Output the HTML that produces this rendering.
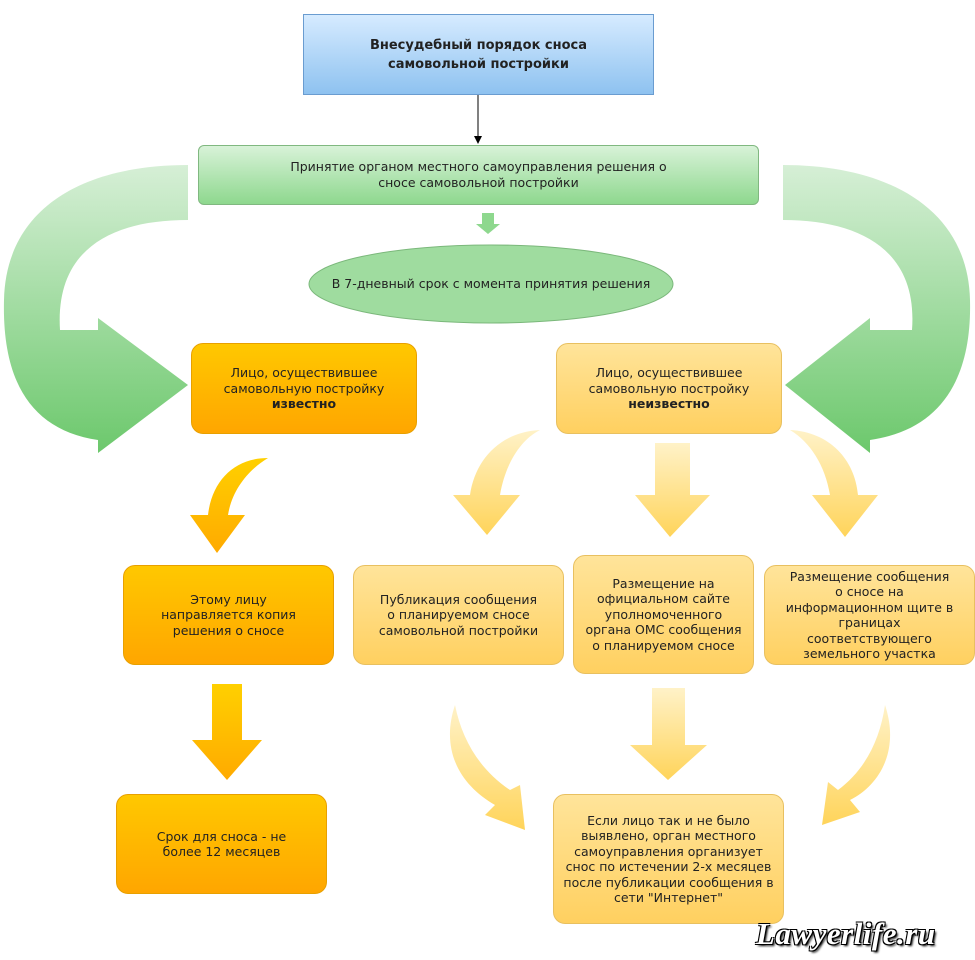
<!DOCTYPE html>
<html><head><meta charset="utf-8"><style>
body{margin:0;width:975px;height:960px;background:#fff;position:relative;overflow:hidden;font-family:"DejaVu Sans","Liberation Sans",sans-serif;font-size:12.5px;color:#222}
.b{position:absolute;display:flex;align-items:center;justify-content:center;text-align:center;box-sizing:border-box;line-height:15.5px}
.b>span{display:block}
.o{background:linear-gradient(#ffc800,#ffa600);border:1px solid #e8a000;border-radius:12px}
.y{background:linear-gradient(#ffe49a,#ffd060);border:1px solid #e8c060;border-radius:12px}
svg{position:absolute;left:0;top:0}
</style></head><body>
<svg width="975" height="960">
<defs>
<linearGradient id="gl" x1="0" y1="0" x2="0" y2="1"><stop offset="0" stop-color="#d6efd6"/><stop offset="1" stop-color="#6cc86c"/></linearGradient>
<linearGradient id="yl" x1="0" y1="0" x2="0" y2="1"><stop offset="0" stop-color="#fff2c8"/><stop offset="1" stop-color="#ffd45a"/></linearGradient>
<linearGradient id="ol" x1="0" y1="0" x2="0" y2="1"><stop offset="0" stop-color="#ffd000"/><stop offset="1" stop-color="#ffaa00"/></linearGradient>
</defs>
<line x1="478" y1="94" x2="478" y2="138" stroke="#000" stroke-width="1"/>
<polygon points="474,136 482,136 478,144" fill="#000"/>
<path d="M188,165 L188,220 C110,220 55,250 60,330 L98,330 L98,318 L188,385 L98,453 L98,440 C30,430 2,380 4,300 C6,210 80,165 188,165 Z" fill="url(#gl)"/>
<path d="M783,165 L783,220 C860,220 918,250 912,330 L870,330 L870,318 L785,385 L870,453 L870,440 C940,430 972,380 970,300 C968,210 890,165 783,165 Z" fill="url(#gl)"/>
<polygon points="482,213 494,213 494,224 500,224 488,234 476,224 482,224" fill="#8ed88e"/>
<ellipse cx="491" cy="284" rx="182" ry="39" fill="#9fdc9f" stroke="#7bb87b"/>
<path d="M268,458 C235,458 212,480 208,515 L190,515 L217,553 L245,515 L228,515 C232,490 248,470 268,458 Z" fill="url(#ol)"/>
<polygon points="212,684 242,684 242,740 262,740 227,780 192,740 212,740" fill="url(#ol)"/>
<path d="M540,430 C500,432 475,460 470,495 L453,495 L487,535 L520,495 L500,495 C505,465 520,440 540,430 Z" fill="url(#yl)"/>
<polygon points="655,443 690,443 690,495 710,495 670,537 635,495 655,495" fill="url(#yl)"/>
<path d="M790,430 C830,432 855,460 858,495 L878,495 L845,537 L812,495 L830,495 C825,465 810,442 790,430 Z" fill="url(#yl)"/>
<path d="M455,705 C440,750 460,785 495,805 L485,815 L525,830 L520,785 L510,790 C480,770 462,740 455,705 Z" fill="url(#yl)"/>
<polygon points="652,688 685,688 685,745 707,745 668,780 630,745 652,745" fill="url(#yl)"/>
<path d="M885,705 C900,750 880,785 850,800 L860,812 L822,825 L828,782 L838,790 C865,770 880,740 885,705 Z" fill="url(#yl)"/>
</svg>
<div class="b" style="left:303px;top:14px;width:351px;height:81px;background:linear-gradient(#d6ebff,#8ec2f0);border:1px solid #6a9cd0;font-weight:bold;font-size:13px;line-height:19px"><span>Внесудебный порядок сноса<br>самовольной постройки</span></div>
<div class="b" style="left:198px;top:145px;width:561px;height:60px;background:linear-gradient(#d8f2d8,#8ed88e);border:1px solid #80b880;border-radius:6px;line-height:16px"><span>Принятие органом местного самоуправления решения о<br>сносе самовольной постройки</span></div>
<div class="b" style="left:309px;top:270px;width:364px;height:28px"><span>В 7-дневный срок с момента принятия решения</span></div>
<div class="b o" style="left:191px;top:343px;width:226px;height:91px"><span>Лицо, осуществившее<br>самовольную постройку<br><b>известно</b></span></div>
<div class="b y" style="left:556px;top:343px;width:226px;height:91px"><span>Лицо, осуществившее<br>самовольную постройку<br><b>неизвестно</b></span></div>
<div class="b o" style="left:123px;top:565px;width:211px;height:100px"><span>Этому лицу<br>направляется копия<br>решения о сносе</span></div>
<div class="b o" style="left:116px;top:794px;width:211px;height:100px"><span>Срок для сноса - не<br>более 12 месяцев</span></div>
<div class="b y" style="left:353px;top:565px;width:211px;height:100px"><span>Публикация сообщения<br>о планируемом сносе<br>самовольной постройки</span></div>
<div class="b y" style="left:573px;top:555px;width:181px;height:119px"><span>Размещение на<br>официальном сайте<br>уполномоченного<br>органа ОМС сообщения<br>о планируемом сносе</span></div>
<div class="b y" style="left:764px;top:565px;width:211px;height:100px"><span>Размещение сообщения<br>о сносе на<br>информационном щите в<br>границах<br>соответствующего<br>земельного участка</span></div>
<div class="b y" style="left:553px;top:794px;width:231px;height:130px"><span>Если лицо так и не было<br>выявлено, орган местного<br>самоуправления организует<br>снос по истечении 2-х месяцев<br>после публикации сообщения в<br>сети "Интернет"</span></div>
<div style="position:absolute;left:756px;top:916px;font-family:'Liberation Serif',serif;font-style:italic;font-weight:bold;font-size:31px;letter-spacing:0.5px;color:#fff;text-shadow:1px 1px 0 #000,-1px -1px 0 #000,1px -1px 0 #000,-1px 1px 0 #000,2px 2px 2px #000">Lawyerlife.ru</div>
</body></html>
